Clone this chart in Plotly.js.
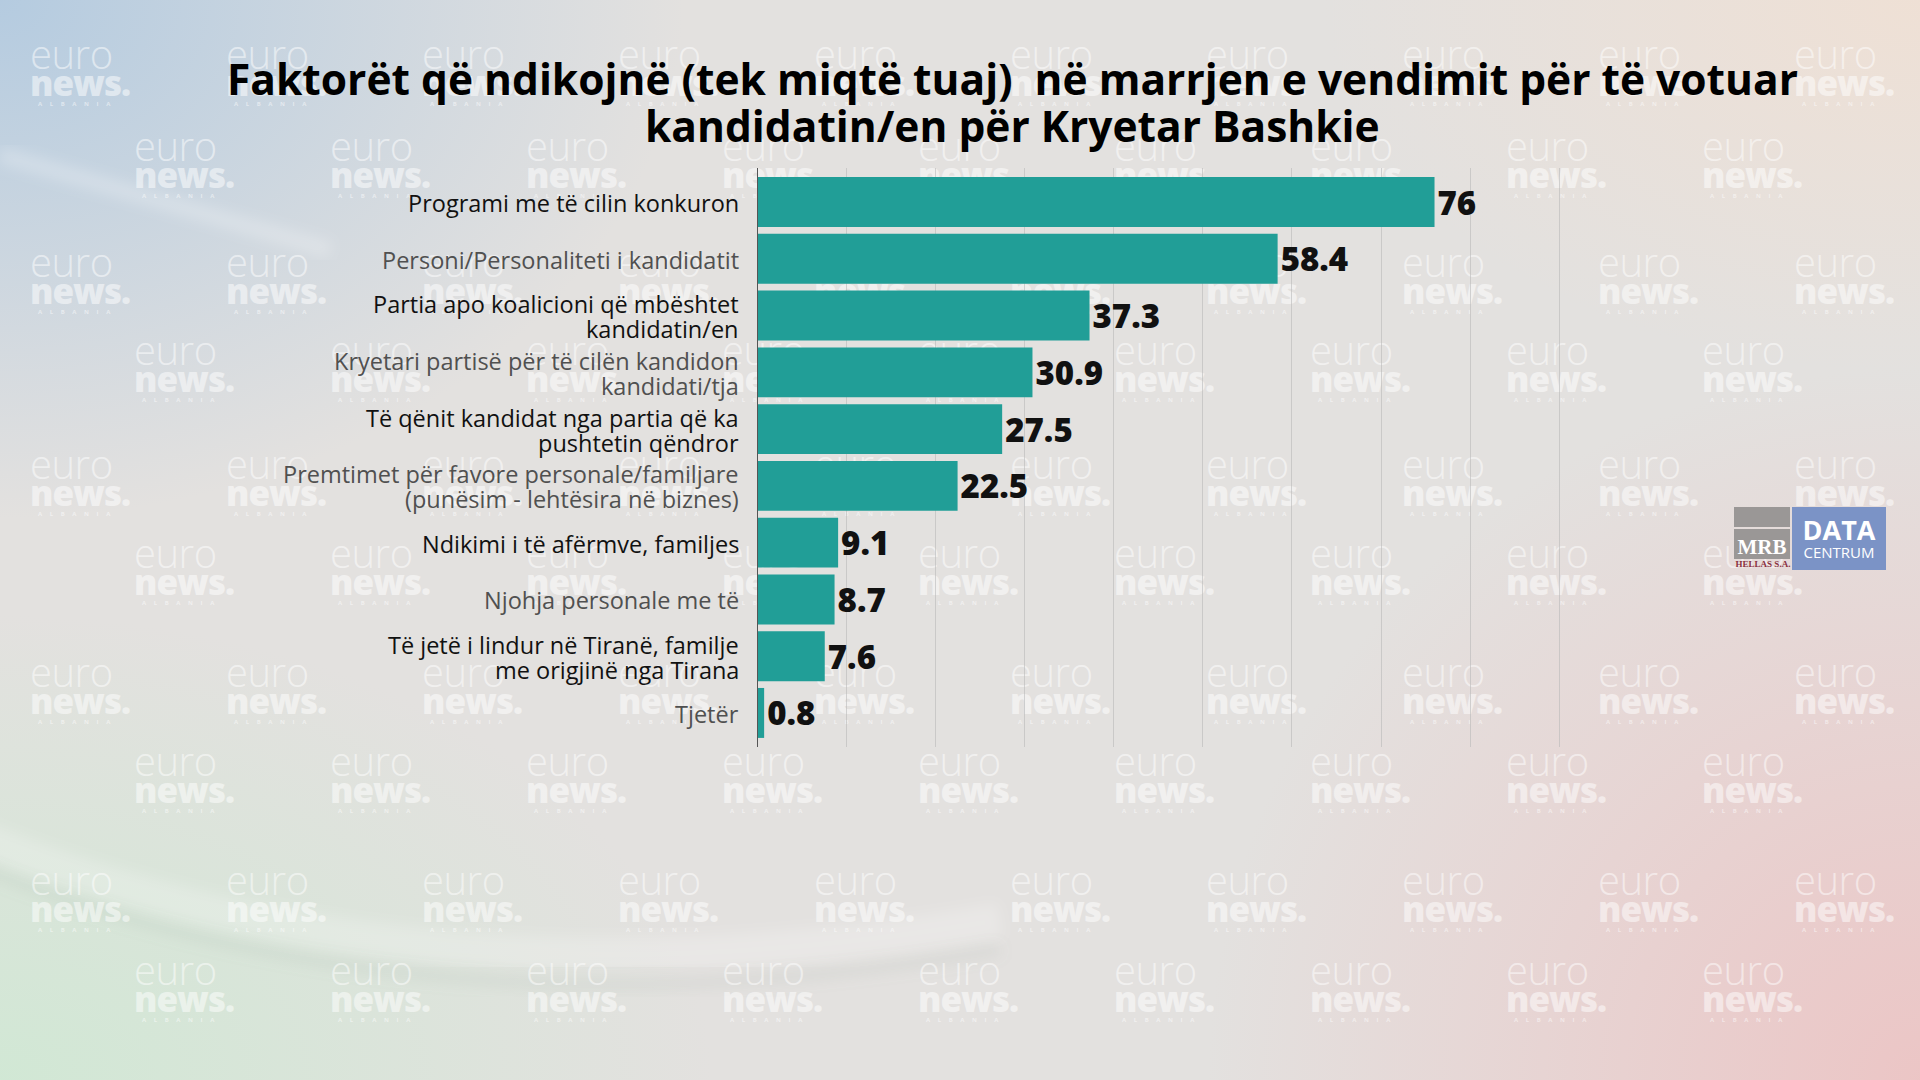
<!DOCTYPE html>
<html>
<head>
<meta charset="utf-8">
<script src="https://cdn.plot.ly/plotly-3.0.1.min.js"></script>
<style>
  html, body { margin: 0; padding: 0; width: 1920px; height: 1080px; overflow: hidden; }
  #bg {
    position: absolute; left: 0; top: 0; width: 1920px; height: 1080px;
    background:
      radial-gradient(ellipse 950px 720px at 0px 0px, rgba(178,202,224,0.95), rgba(178,202,224,0) 72%),
      radial-gradient(ellipse 950px 620px at 0px 1080px, rgba(208,232,212,0.95), rgba(208,232,212,0) 75%),
      radial-gradient(ellipse 950px 950px at 1920px 1080px, rgba(236,196,196,0.95), rgba(236,196,196,0) 75%),
      radial-gradient(ellipse 800px 500px at 1920px 0px, rgba(240,224,212,0.9), rgba(240,224,212,0) 75%),
      #e3e1df;
  }
  #swoosh { position: absolute; left: 0; top: 0; }
  #marks { position: absolute; left: 0; top: 0; width: 1920px; height: 1080px; }
  .wm { position: absolute; width: 110px; height: 70px; color: rgba(255,255,255,0.5); font-family: "Open Sans", sans-serif; }
  .wm span { position: absolute; left: 0; white-space: nowrap; }
  .wm .e { font-size: 40px; line-height: 40px; font-weight: 300; letter-spacing: -0.5px; }
  .wm .n { font-size: 35px; line-height: 35px; font-weight: 800; letter-spacing: -1px; }
  .wm .a { font-size: 6px; line-height: 6px; font-weight: 700; letter-spacing: 7.6px; left: 8px; }
  #chart { position: absolute; left: 0; top: 0; width: 1920px; height: 1080px; }
  #logo { position: absolute; left: 1734px; top: 507px; width: 154px; height: 63px; font-family: "Liberation Serif", serif; }
  #logo .g1 { position: absolute; left: 0; top: 0; width: 56px; height: 20px; background: #9a9796; }
  #logo .g2 { position: absolute; left: 0; top: 22px; width: 56px; height: 30px; background: #9a9796; color: #fff; font-weight: 700; font-size: 21px; text-align: center; line-height: 36px; }
  #logo .h { position: absolute; left: 0; top: 52px; width: 58px; font-size: 9px; line-height: 10px; font-weight: 700; color: #8a3040; text-align: center; }
  #logo .d { position: absolute; left: 58px; top: 0; width: 94px; height: 63px; background: #7b93c6; color: #fff; font-family: "Open Sans", sans-serif; text-align: center; }
  #logo .d .t1 { display: block; font-size: 27px; font-weight: 700; line-height: 27px; margin-top: 9px; }
  #logo .d .t2 { display: block; font-size: 15px; font-weight: 400; line-height: 18px; }
</style>
</head>
<body>
<div id="bg"></div>
<svg id="swoosh" width="1920" height="1080">
  <defs>
    <filter id="soft" x="-10%" y="-10%" width="120%" height="120%"><feGaussianBlur stdDeviation="7"/></filter>
  </defs>
  <path d="M -40 830 Q 420 1020 1000 920" fill="none" stroke="rgba(255,255,255,0.22)" stroke-width="34" filter="url(#soft)"/>
  <path d="M -40 860 Q 420 1050 1000 950" fill="none" stroke="rgba(140,165,150,0.14)" stroke-width="10" filter="url(#soft)"/>
  <path d="M 0 155 L 330 250" fill="none" stroke="rgba(255,255,255,0.25)" stroke-width="16" filter="url(#soft)"/>
</svg>
<div id="marks"></div>
<div id="chart"></div>
<div id="logo">
  <div class="g1"></div>
  <div class="g2">MRB</div>
  <div class="h">HELLAS S.A.</div>
  <div class="d"><span class="t1">DATA</span><span class="t2">CENTRUM</span></div>
</div>
<script>
// Survey factors, listed from the top of the chart downwards
const categories = [
  "Programi me të cilin konkuron",
  "Personi/Personaliteti i kandidatit",
  "Partia apo koalicioni që mbështet<br>kandidatin/en",
  "Kryetari partisë për të cilën kandidon<br>kandidati/tja",
  "Të qënit kandidat nga partia që ka<br>pushtetin qëndror",
  "Premtimet për favore personale/familjare<br>(punësim - lehtësira në biznes)",
  "Ndikimi i të afërmve, familjes",
  "Njohja personale me të",
  "Të jetë i lindur në Tiranë, familje<br>me origjinë nga Tirana",
  "Tjetër"
];
const values = [76, 58.4, 37.3, 30.9, 27.5, 22.5, 9.1, 8.7, 7.6, 0.8];
const labelColors = ["#111111", "#505050", "#111111", "#505050", "#111111",
                     "#505050", "#111111", "#505050", "#111111", "#505050"];
const titleLines = [
  "Faktorët që ndikojnë (tek miqtë tuaj)  në marrjen e vendimit për të votuar",
  "kandidatin/en për Kryetar Bashkie"
];

// Repeated watermark tiles in the background
const marks = document.getElementById('marks');
const rowCenters = [86, 178, 294, 382, 496, 585, 704, 793, 912, 1002];
rowCenters.forEach((c, r) => {
  const start = (r % 2 === 0) ? 30 : 134;
  const nb = c + 10;               // baseline of "news."
  for (let x = start; x + 110 <= 1920; x += 196) {
    const d = document.createElement('div');
    d.className = 'wm';
    const top = nb - 26 - 36;      // tile top, "euro" box starts here
    d.style.left = x + 'px';
    d.style.top = top + 'px';
    d.innerHTML =
      '<span class="e" style="top:0px">euro</span>' +
      '<span class="n" style="top:' + (nb - top - 31) + 'px">news.</span>' +
      '<span class="a" style="top:' + (nb - top + 5) + 'px">ALBANIA</span>';
    marks.appendChild(d);
  }
});

const ys = categories.map((c, i) => i);

const trace = {
  type: 'bar',
  orientation: 'h',
  x: values,
  y: ys,
  marker: { color: '#219e97', line: { width: 0 } },
  width: 0.88,
  text: values.map(v => String(v)),
  textposition: 'outside',
  cliponaxis: false,
  constraintext: 'none',
  textfont: { family: '"Open Sans", sans-serif', size: 33, color: '#111111', weight: 800 },
  hoverinfo: 'none'
};

// Category labels, right-aligned against the axis, one annotation per text line
const annotations = [];
categories.forEach((c, i) => {
  const lines = c.split('<br>');
  const lineGap = 25;
  lines.forEach((ln, k) => {
    annotations.push({
      xref: 'paper', yref: 'y',
      x: 0, y: i,
      xanchor: 'right', yanchor: 'middle',
      xshift: -16,
      yshift: -((k - (lines.length - 1) / 2) * lineGap) - 1,
      showarrow: false,
      text: ln,
      font: { family: '"Open Sans", sans-serif', size: 23.5, color: labelColors[i], weight: 500 }
    });
  });
});

// Two-line heading
const titleCenters = [79, 126];
titleLines.forEach((t, k) => {
  annotations.push({
    xref: 'paper', yref: 'paper',
    x: (1012 - 757) / (1920 - 757 - 358),
    y: (747 - titleCenters[k]) / (747 - 168),
    xanchor: 'center', yanchor: 'middle',
    showarrow: false,
    text: t,
    font: { family: '"Open Sans", sans-serif', size: 42.5, color: '#000000', weight: 700 }
  });
});

const layout = {
  width: 1920, height: 1080,
  paper_bgcolor: 'rgba(0,0,0,0)',
  plot_bgcolor: 'rgba(0,0,0,0)',
  margin: { l: 757, r: 358, t: 168, b: 333, pad: 0 },
  showlegend: false,
  xaxis: {
    range: [0, 90.3],
    showticklabels: false,
    ticks: '',
    dtick: 10,
    showgrid: true,
    gridcolor: 'rgba(185,185,185,0.6)',
    gridwidth: 1,
    zeroline: false,
    showline: false,
    fixedrange: true
  },
  yaxis: {
    range: [9.6, -0.6],
    showticklabels: false,
    ticks: '',
    showgrid: false,
    zeroline: false,
    showline: false,
    fixedrange: true
  },
  shapes: [{
    type: 'line', xref: 'x', yref: 'paper',
    x0: 0, x1: 0, y0: 0, y1: 1,
    line: { color: '#555555', width: 2 }
  }],
  annotations: annotations
};

Plotly.newPlot('chart', [trace], layout, { displayModeBar: false, staticPlot: true });
</script>
</body>
</html>
